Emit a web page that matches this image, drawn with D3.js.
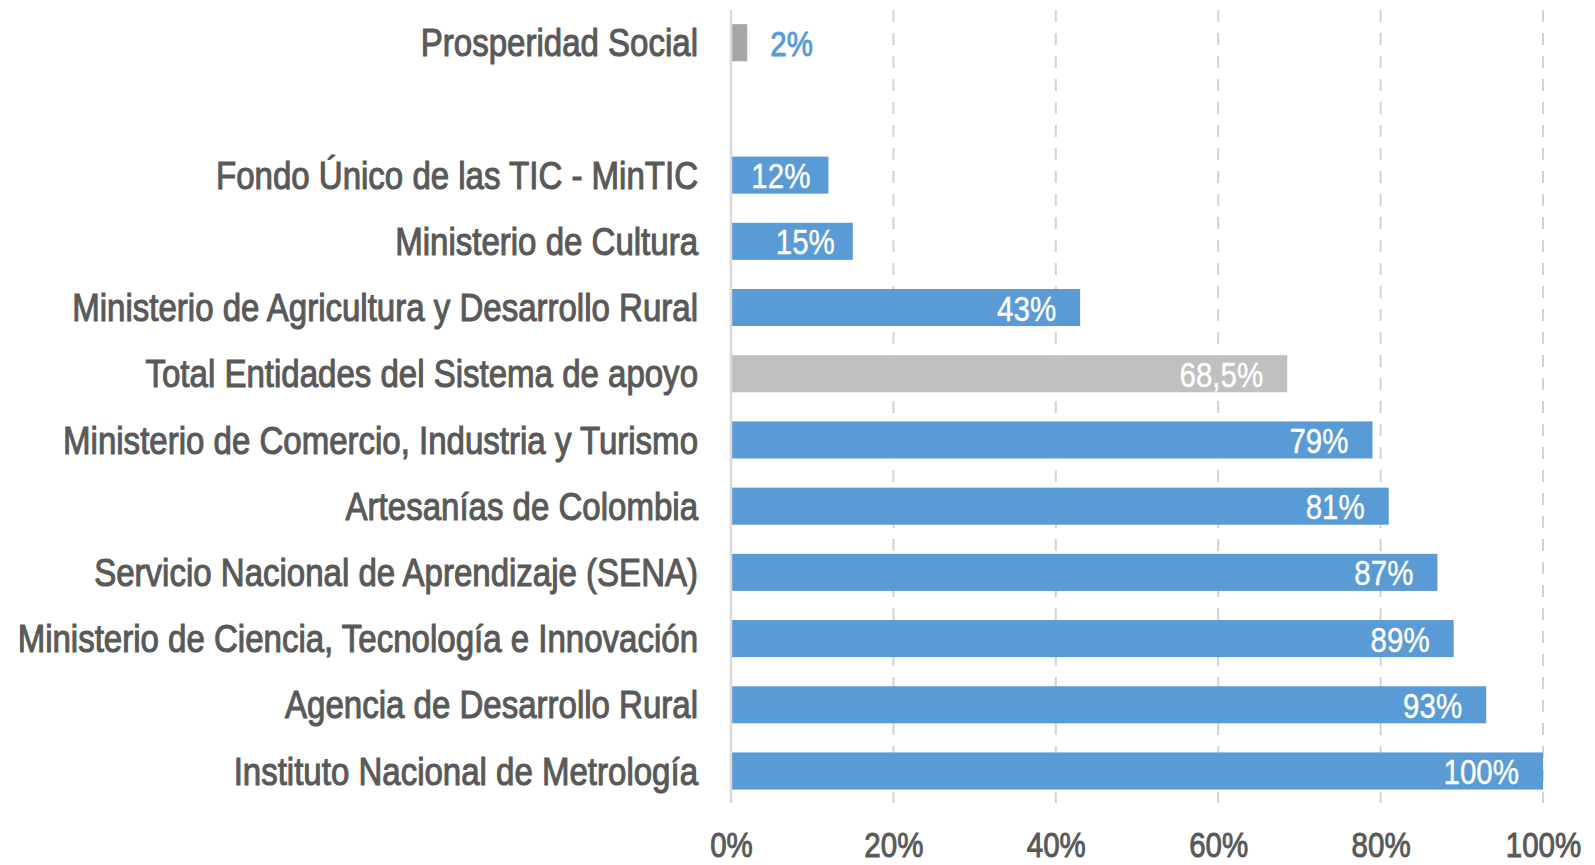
<!DOCTYPE html>
<html><head><meta charset="utf-8">
<script src="https://cdn.jsdelivr.net/npm/d3@7"></script>
<style>body{margin:0;background:#fff}svg{display:block}</style>
</head><body>
<script>
const categories = ["Prosperidad Social","","Fondo Único de las TIC - MinTIC","Ministerio de Cultura","Ministerio de Agricultura y Desarrollo Rural","Total Entidades del Sistema de apoyo","Ministerio de Comercio, Industria y Turismo","Artesanías de Colombia","Servicio Nacional de Aprendizaje (SENA)","Ministerio de Ciencia, Tecnología e Innovación","Agencia de Desarrollo Rural","Instituto Nacional de Metrología"];
const values = [2, null, 12, 15, 43, 68.5, 79, 81, 87, 89, 93, 100];
const valueLabels = ["2%","","12%","15%","43%","68,5%","79%","81%","87%","89%","93%","100%"];
const barKinds = ["dark","","blue","blue","blue","gray","blue","blue","blue","blue","blue","blue"];
const tickValues = [0,20,40,60,80,100];
const tickLabels = ["0%","20%","40%","60%","80%","100%"];

const W=1595,H=865;
const FONT="'Liberation Sans',Arial,sans-serif";
const SX=0.82, SXC=0.847;
const svg=d3.select("body").append("svg").attr("width",W).attr("height",H);
const x=d3.scaleLinear().domain([0,100]).range([731,1543]);
const y=d3.scaleBand().domain(d3.range(categories.length)).range([9.6,804.1]).paddingInner(0.44).paddingOuter(0.22);

// gridlines
svg.append("g").selectAll("line").data(tickValues.filter(d=>d>0)).join("line")
  .attr("x1",d=>x(d)).attr("x2",d=>x(d)).attr("y1",10).attr("y2",803)
  .attr("stroke","#d3d3d3").attr("stroke-width",2).attr("stroke-dasharray","12,11");

const colors={blue:"#5b9bd5",gray:"#c0c0c0",dark:"#a6a6a6"};
const data=categories.map((c,i)=>({c,i,v:values[i],lab:valueLabels[i],k:barKinds[i]})).filter(d=>d.v!=null);

svg.append("g").selectAll("rect").data(data).join("rect")
  .attr("x",x(0)).attr("y",d=>y(d.i)).attr("width",d=>x(d.v)-x(0)).attr("height",y.bandwidth())
  .attr("fill",d=>colors[d.k]);

// axis line
svg.append("line").attr("x1",x(0)).attr("x2",x(0)).attr("y1",10).attr("y2",803)
  .attr("stroke","#d9d9d9").attr("stroke-width",2.5);

// category labels
svg.append("g").selectAll("text").data(categories.map((c,i)=>({c,i})).filter(d=>d.c)).join("text")
  .attr("transform",d=>`translate(698,${y(d.i)+y.bandwidth()/2}) scale(${SXC},1)`).attr("dy","0.35em")
  .attr("text-anchor","end").attr("font-family",FONT).attr("font-size",39)
  .attr("fill","#595959").attr("stroke","#595959").attr("stroke-width",1.1).text(d=>d.c);

// value labels
svg.append("g").selectAll("text").data(data).join("text")
  .attr("transform",d=>`translate(${d.v<5? x(d.v)+23 : (d.v<20 ? x(d.v)-18 : x(d.v)-24)},${y(d.i)+y.bandwidth()/2}) scale(${SX},1)`)
  .attr("dy","0.36em")
  .attr("text-anchor",d=>d.v<5?"start":"end")
  .attr("font-family",FONT).attr("font-size",36)
  .attr("fill",d=>d.v<5?"#5b9bd5":"#ffffff")
  .attr("stroke",d=>d.v<5?"#5b9bd5":"#ffffff").attr("stroke-width",d=>d.v<5?1:0.4)
  .text(d=>d.lab);

// x tick labels
const axis=d3.axisBottom(x).tickValues(tickValues).tickFormat((d,i)=>tickLabels[i]).tickSize(0);
const ag=svg.append("g").attr("transform","translate(0,831)").call(axis);
ag.select(".domain").remove();
ag.selectAll("text").attr("font-family",FONT).attr("font-size",36)
  .attr("fill","#595959").attr("stroke","#595959").attr("stroke-width",1)
  .attr("dy","0.71em").attr("y",0).attr("transform",`scale(${SX},1)`);
</script>
</body></html>
